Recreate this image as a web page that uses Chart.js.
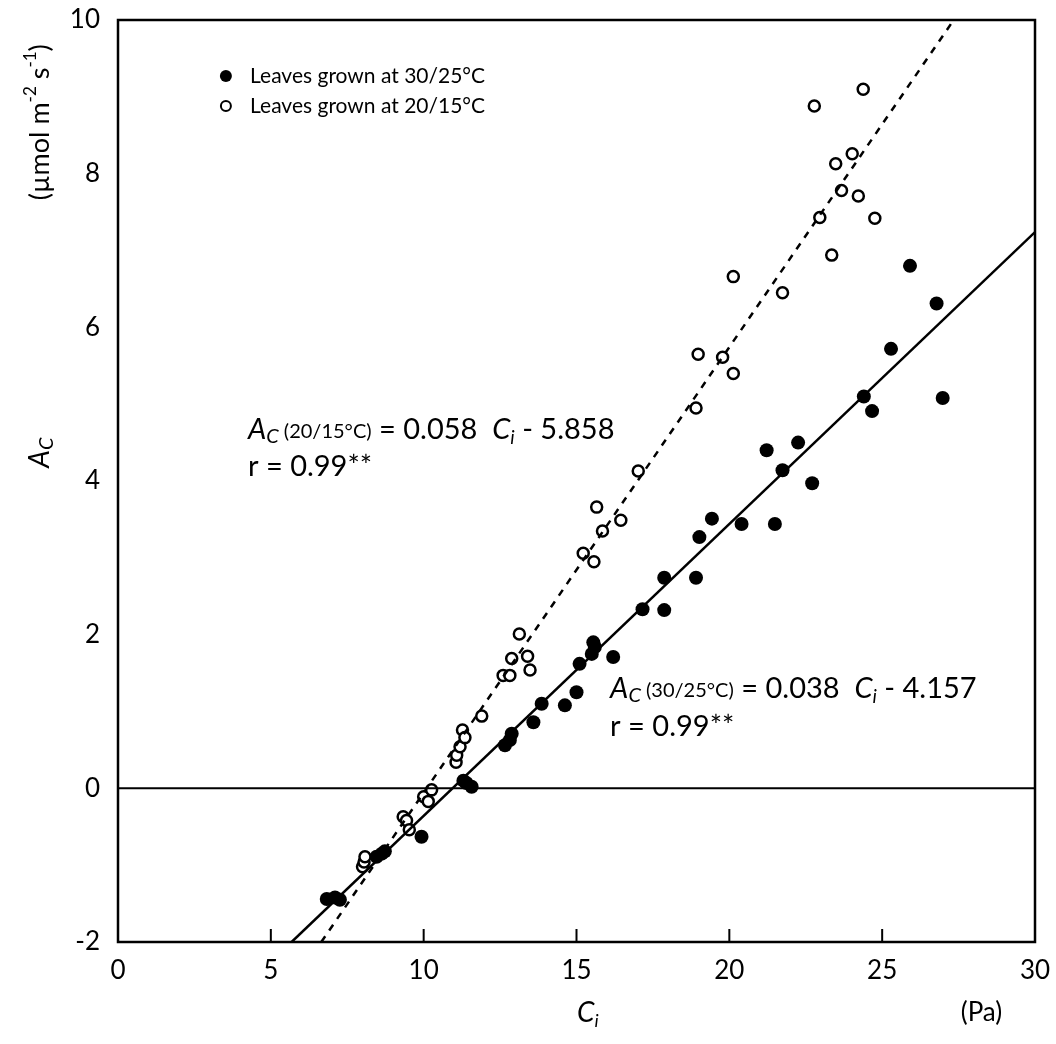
<!DOCTYPE html>
<html>
<head>
<meta charset="utf-8">
<script src="https://cdn.jsdelivr.net/npm/chart.js@4.4.1/dist/chart.umd.min.js"></script>
<style>
  body { margin: 0; background: #fff; }
  #wrap { width: 1056px; height: 1044px; }
</style>
</head>
<body>
<div id="wrap"><canvas id="acChart" width="1056" height="1044"></canvas></div>
<script>
// leaves grown at 30/25°C (filled)
var warmX = [6.83, 7.10, 7.26, 8.46, 8.63, 8.73, 9.93, 11.3, 11.4, 11.57, 12.66, 12.82, 12.88, 13.59, 13.86, 14.62, 15.0, 15.1, 15.5, 15.55, 15.6, 16.2, 17.16, 17.87, 17.87, 18.91, 19.02, 19.43, 20.4, 21.22, 21.49, 21.74, 22.25, 22.71, 24.4, 24.67, 25.29, 25.91, 26.78, 26.98];
var warmY = [-1.44, -1.42, -1.45, -0.89, -0.85, -0.82, -0.63, 0.10, 0.07, 0.02, 0.56, 0.63, 0.71, 0.86, 1.10, 1.08, 1.25, 1.62, 1.75, 1.90, 1.84, 1.71, 2.33, 2.74, 2.32, 2.74, 3.27, 3.51, 3.44, 4.40, 3.44, 4.14, 4.50, 3.97, 5.10, 4.91, 5.72, 6.80, 6.31, 5.08];

// leaves grown at 20/15°C (open)
var coolX = [8.0, 8.05, 8.08, 9.33, 9.44, 9.53, 10.0, 10.15, 10.26, 11.06, 11.08, 11.19, 11.27, 11.35, 11.9, 12.6, 12.82, 12.88, 13.13, 13.4, 13.48, 15.22, 15.57, 15.66, 15.85, 16.45, 17.02, 18.91, 18.98, 19.78, 20.13, 20.13, 21.74, 22.78, 22.96, 23.35, 23.48, 23.67, 24.02, 24.22, 24.38, 24.76];
var coolY = [-1.02, -0.96, -0.89, -0.37, -0.42, -0.54, -0.11, -0.17, -0.02, 0.34, 0.43, 0.54, 0.76, 0.66, 0.94, 1.47, 1.47, 1.69, 2.01, 1.72, 1.54, 3.06, 2.95, 3.66, 3.35, 3.49, 4.13, 4.95, 5.65, 5.61, 5.40, 6.66, 6.45, 8.88, 7.43, 6.94, 8.13, 7.78, 8.26, 7.71, 9.10, 7.42];

// regression line end points
var warmFitX = [5.68, 30];
var warmFitY = [-2, 7.24];
var coolFitX = [6.65, 27.34];
var coolFitY = [-2, 10];

var zeroX = [0, 30];
var zeroY = [0, 0];

var xTicks = [0, 5, 10, 15, 20, 25, 30];
var yTicks = [-2, 0, 2, 4, 6, 8, 10];

var FONT = "Lato, 'Open Sans', sans-serif";

function pts(xs, ys) {
    return xs.map(function (x, i) { return { x: x, y: ys[i] }; });
}

function richWidth(ctx, parts) {
    var w = 0;
    parts.forEach(function (p) {
        ctx.font = (p.it ? "italic " : "") + p.size + "px " + FONT;
        w += ctx.measureText(p.t).width;
    });
    return w;
}

function drawRich(ctx, x, y, parts) {
    parts.forEach(function (p) {
        ctx.font = (p.it ? "italic " : "") + p.size + "px " + FONT;
        ctx.fillText(p.t, x, y + (p.dy || 0));
        x += ctx.measureText(p.t).width;
    });
}

var decor = {
    id: "decor",
    afterDraw: function (chart) {
        var ctx = chart.ctx;
        var a = chart.chartArea;
        var xs = chart.scales.x, ys = chart.scales.y;
        ctx.save();
        ctx.strokeStyle = "#000";
        ctx.fillStyle = "#000";

        // frame
        ctx.lineWidth = 2.5;
        ctx.strokeRect(a.left, a.top, a.right - a.left, a.bottom - a.top);

        // inward ticks on the bottom axis
        ctx.lineWidth = 2;
        [5, 10, 15, 20, 25].forEach(function (v) {
            var px = xs.getPixelForValue(v);
            ctx.beginPath();
            ctx.moveTo(px, a.bottom);
            ctx.lineTo(px, a.bottom - 13);
            ctx.stroke();
        });

        ctx.textBaseline = "middle";
        ctx.textAlign = "left";

        // legend
        var lx = xs.getPixelForValue(3.53);
        var tx = xs.getPixelForValue(4.32);
        var r1 = ys.getPixelForValue(9.27), r2 = ys.getPixelForValue(8.88);
        ctx.beginPath(); ctx.arc(lx, r1, 6, 0, Math.PI * 2); ctx.fill();
        ctx.lineWidth = 2;
        ctx.beginPath(); ctx.arc(lx, r2, 5, 0, Math.PI * 2); ctx.stroke();
        ctx.font = "21px " + FONT;
        ctx.fillText("Leaves grown at 30/25°C", tx, r1);
        ctx.fillText("Leaves grown at 20/15°C", tx, r2);

        // equations
        var ex = xs.getPixelForValue(4.25);
        drawRich(ctx, ex, ys.getPixelForValue(4.67), [
            { t: "A", it: 1, size: 29 }, { t: "C", it: 1, size: 20, dy: 7 },
            { t: " (20/15°C)", size: 20, dy: 2 }, { t: " = 0.058  ", size: 29 },
            { t: "C", it: 1, size: 29 }, { t: "i", it: 1, size: 19, dy: 8 },
            { t: " - 5.858", size: 29 }
        ]);
        drawRich(ctx, ex, ys.getPixelForValue(4.19), [{ t: "r = 0.99**", size: 29 }]);

        var ex2 = xs.getPixelForValue(16.1);
        drawRich(ctx, ex2, ys.getPixelForValue(1.30), [
            { t: "A", it: 1, size: 29 }, { t: "C", it: 1, size: 20, dy: 7 },
            { t: " (30/25°C)", size: 20, dy: 2 }, { t: " = 0.038  ", size: 29 },
            { t: "C", it: 1, size: 29 }, { t: "i", it: 1, size: 19, dy: 8 },
            { t: " - 4.157", size: 29 }
        ]);
        drawRich(ctx, ex2, ys.getPixelForValue(0.80), [{ t: "r = 0.99**", size: 29 }]);

        // x axis title
        var xt = [{ t: "C", it: 1, size: 28 }, { t: "i", it: 1, size: 18, dy: 8 }];
        drawRich(ctx, xs.getPixelForValue(15.37) - richWidth(ctx, xt) / 2, 1013, xt);
        var pa = [{ t: "(Pa)", size: 26 }];
        drawRich(ctx, xs.getPixelForValue(28.25) - richWidth(ctx, pa) / 2, 1013, pa);

        // y axis titles (rotated)
        var yt = [{ t: "A", it: 1, size: 28 }, { t: "C", it: 1, size: 20, dy: 7 }];
        ctx.save();
        ctx.translate(40, ys.getPixelForValue(4.37));
        ctx.rotate(-Math.PI / 2);
        drawRich(ctx, -richWidth(ctx, yt) / 2, 0, yt);
        ctx.restore();

        var yu = [{ t: "(µmol m", size: 27 }, { t: "-2", size: 17, dy: -9 },
                  { t: " s", size: 27 }, { t: "-1", size: 17, dy: -9 }, { t: ")", size: 27 }];
        ctx.save();
        ctx.translate(40, ys.getPixelForValue(8.67));
        ctx.rotate(-Math.PI / 2);
        drawRich(ctx, -richWidth(ctx, yu) / 2, 0, yu);
        ctx.restore();

        ctx.restore();
    }
};

var acChart = new Chart("acChart", {
    type: "scatter",
    data: {
        datasets: [{
            label: "zero",
            data: pts(zeroX, zeroY),
            showLine: true,
            borderColor: "#000",
            borderWidth: 2,
            pointRadius: 0
        }, {
            label: "fit 30/25",
            data: pts(warmFitX, warmFitY),
            showLine: true,
            borderColor: "#000",
            borderWidth: 2.5,
            pointRadius: 0
        }, {
            label: "fit 20/15",
            data: pts(coolFitX, coolFitY),
            showLine: true,
            borderColor: "#000",
            borderWidth: 2.5,
            borderDash: [7, 7],
            pointRadius: 0
        }, {
            label: "Leaves grown at 30/25°C",
            data: pts(warmX, warmY),
            backgroundColor: "#000",
            borderColor: "#000",
            pointRadius: 7,
            pointBorderWidth: 0
        }, {
            label: "Leaves grown at 20/15°C",
            data: pts(coolX, coolY),
            backgroundColor: "#fff",
            borderColor: "#000",
            pointRadius: 5.5,
            pointBorderWidth: 2.5
        }]
    },
    options: {
        responsive: false,
        animation: false,
        devicePixelRatio: 1,
        layout: { padding: { top: 20, right: 21, left: 0, bottom: 0 } },
        plugins: { legend: { display: false }, tooltip: { enabled: false } },
        scales: {
            x: {
                type: "linear",
                min: 0, max: 30,
                afterBuildTicks: function (s) { s.ticks = xTicks.map(function (v) { return { value: v }; }); },
                afterFit: function (s) { s.height = 102; s.paddingLeft = 0; s.paddingRight = 0; },
                grid: { display: false, drawTicks: false },
                border: { display: false },
                ticks: { color: "#000", padding: 13, font: { size: 26, family: FONT } }
            },
            y: {
                type: "linear",
                min: -2, max: 10,
                afterBuildTicks: function (s) { s.ticks = yTicks.map(function (v) { return { value: v }; }); },
                afterFit: function (s) { s.width = 118; s.paddingTop = 0; s.paddingBottom = 0; },
                grid: { display: false, drawTicks: false },
                border: { display: false },
                ticks: { color: "#000", padding: 18, font: { size: 26, family: FONT } }
            }
        }
    },
    plugins: [decor]
});
</script>
</body>
</html>
